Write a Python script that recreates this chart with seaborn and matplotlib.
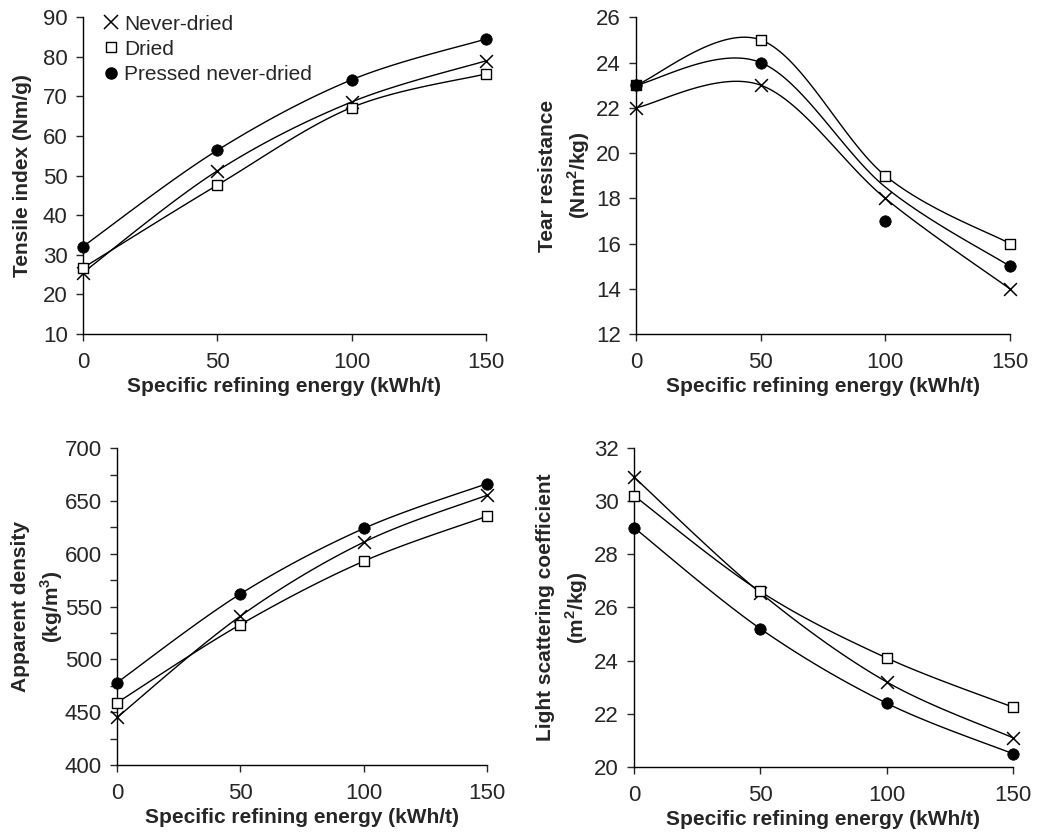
import numpy as np
import pandas as pd
import matplotlib
matplotlib.use("Agg")
import matplotlib.pyplot as plt
from matplotlib.lines import Line2D
import seaborn as sns

energy = [0, 50, 100, 150]
series_names = ["Never-dried", "Dried", "Pressed never-dried"]

tensile_never = [25.5, 51.2, 68.6, 79.0]
tensile_dried = [26.7, 47.6, 67.2, 75.7]
tensile_pressed = [32.1, 56.4, 74.2, 84.5]

tear_never = [22, 23, 18, 14]
tear_dried = [23, 25, 19, 16]
tear_pressed = [23, 24, 17, 15]
tear_pressed_curve = [23, 24, 18.5, 15]

density_never = [445, 541, 611, 655.5]
density_dried = [459, 533, 593, 635.6]
density_pressed = [478, 562, 624, 666.5]

scatter_never = [30.9, 26.55, 23.2, 21.1]
scatter_dried = [30.2, 26.6, 24.1, 22.25]
scatter_pressed = [29.0, 25.2, 22.4, 20.5]

sns.set_style("ticks")
plt.rcParams["font.family"] = ["Liberation Sans", "DejaVu Sans"]
plt.rcParams["mathtext.fontset"] = "custom"
plt.rcParams["mathtext.rm"] = "Liberation Sans"
plt.rcParams["mathtext.bf"] = "Liberation Sans:bold"

TFS = 16
LFS = 15


def smooth(x, y, n=40):
    P = np.column_stack([np.asarray(x, float), np.asarray(y, float)])
    m = len(P)
    out = [P[0]]
    t = np.linspace(0, 1, n)[1:, None]
    for i in range(m - 1):
        p0 = P[i - 1] if i > 0 else P[i]
        p1, p2 = P[i], P[i + 1]
        p3 = P[i + 2] if i + 2 < m else P[i + 1]
        c1 = p1 + (p2 - p0) / 6
        c2 = p2 - (p3 - p1) / 6
        B = (1 - t) ** 3 * p1 + 3 * (1 - t) ** 2 * t * c1 + 3 * (1 - t) * t ** 2 * c2 + t ** 3 * p2
        out.extend(B)
    out = np.array(out)
    return out[:, 0], out[:, 1]


styles = [
    dict(marker="x", s=85, color="black", linewidth=1.1),
    dict(marker="s", s=55, facecolor="white", edgecolor="black", linewidth=1.0),
    dict(marker="o", s=68, color="black", edgecolor="black", linewidth=0.5),
]

fig = plt.figure(figsize=(10.41, 8.38), dpi=100)
positions = [
    [0.0797, 0.6014, 0.387, 0.378],
    [0.611, 0.6014, 0.359, 0.378],
    [0.1124, 0.0871, 0.3554, 0.378],
    [0.609, 0.0847, 0.364, 0.381],
]
label_pads = [8, 3, 0, 3]

panels = [
    ([tensile_never, tensile_dried, tensile_pressed], None, (10, 90), np.arange(10, 91, 10), None,
     "Tensile index (Nm/g)"),
    ([tear_never, tear_dried, tear_pressed], [tear_never, tear_dried, tear_pressed_curve], (12, 26),
     np.arange(12, 27, 2), None, "Tear resistance\n(Nm$^{\\mathbf{2}}$/kg)"),
    ([density_never, density_dried, density_pressed], None, (400, 700), np.arange(400, 701, 50),
     np.arange(400, 701, 25), "Apparent density\n(kg/m$^{\\mathbf{3}}$)"),
    ([scatter_never, scatter_dried, scatter_pressed], None, (20, 32), np.arange(20, 33, 2), None,
     "Light scattering coefficient\n(m$^{\\mathbf{2}}$/kg)"),
]

for k, (data, curves, ylim, yt, yminor, ylabel) in enumerate(panels):
    ax = fig.add_axes(positions[k])
    if curves is None:
        curves = data
    for vals in curves:
        sx, sy = smooth(energy, vals)
        sns.lineplot(x=sx, y=sy, ax=ax, color="black", lw=1.0, sort=False, estimator=None)
    for vals, st in zip(data, styles):
        sns.scatterplot(x=energy, y=vals, ax=ax, clip_on=False, zorder=5, **st)
    ax.set_xlim(0, 150)
    ax.set_ylim(*ylim)
    ax.set_xticks(energy)
    ax.set_yticks(yt)
    if yminor is not None:
        ax.set_yticks(yminor, minor=True)
        ax.tick_params(axis="y", which="minor", length=5, width=1, direction="out")
    ax.tick_params(axis="x", which="major", labelsize=TFS, length=5, width=1, direction="out", pad=8)
    ax.tick_params(axis="y", which="major", labelsize=TFS, length=5, width=1, direction="out", pad=6)
    for sp in ["top", "right"]:
        ax.spines[sp].set_visible(False)
    for sp in ["left", "bottom"]:
        ax.spines[sp].set_linewidth(1.0)
        ax.spines[sp].set_color("black")
    ax.set_xlabel("Specific refining energy (kWh/t)", fontsize=LFS, fontweight="bold", labelpad=3)
    ax.set_ylabel(ylabel, fontsize=LFS, fontweight="bold", labelpad=label_pads[k], linespacing=1.4)
    if k == 0:
        handles = [
            Line2D([], [], marker="x", ls="", color="black", markersize=9.5, markeredgewidth=1.1),
            Line2D([], [], marker="s", ls="", markerfacecolor="white", markeredgecolor="black", markersize=7.5),
            Line2D([], [], marker="o", ls="", color="black", markersize=8),
        ]
        ax.legend(handles, series_names, loc="upper left", bbox_to_anchor=(0.02, 1.035), frameon=False,
                  fontsize=15, handletextpad=0.1, labelspacing=0.3, handlelength=1.1, borderaxespad=0)

fig.savefig("out.png", dpi=100, facecolor="white")
